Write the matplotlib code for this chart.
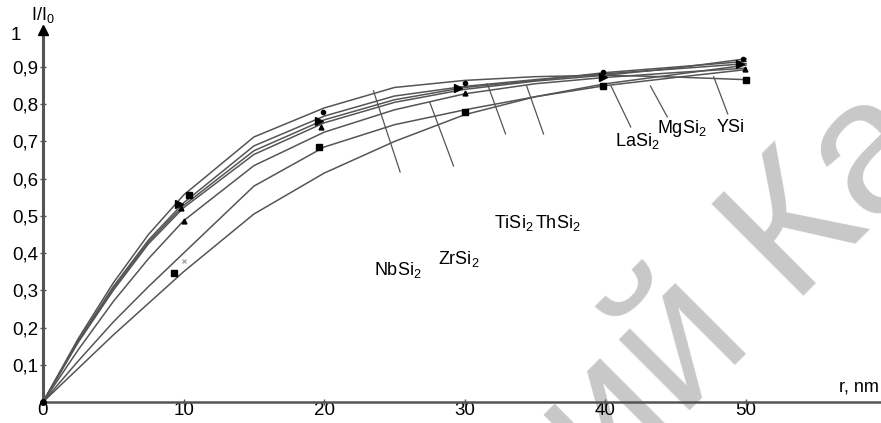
import matplotlib.pyplot as plt

plt.rcParams["font.family"] = ["Liberation Sans", "DejaVu Sans"]
plt.rcParams["mathtext.fontset"] = "custom"
plt.rcParams["mathtext.rm"] = "Liberation Sans"

# distance r, nm
r = [0, 2.5, 5, 7.5, 10, 15, 20, 25, 30, 35, 40, 45, 50]

# I/I0 curves
nbsi2 = [0, 0.17, 0.32, 0.45, 0.556, 0.712, 0.79, 0.845, 0.864, 0.874, 0.878, 0.873, 0.866]
zrsi2 = [0, 0.165, 0.31, 0.435, 0.535, 0.688, 0.768, 0.822, 0.848, 0.866, 0.882, 0.895, 0.909]
thsi2 = [0, 0.163, 0.305, 0.43, 0.528, 0.675, 0.758, 0.812, 0.845, 0.864, 0.885, 0.9, 0.915]
tisi2 = [0, 0.16, 0.30, 0.425, 0.522, 0.665, 0.75, 0.805, 0.84, 0.862, 0.878, 0.897, 0.922]
ysi = [0, 0.14, 0.27, 0.385, 0.487, 0.635, 0.725, 0.785, 0.828, 0.855, 0.872, 0.885, 0.897]
mgsi2 = [0, 0.11, 0.215, 0.31, 0.40, 0.58, 0.685, 0.745, 0.785, 0.82, 0.85, 0.872, 0.893]
lasi2 = [0, 0.09, 0.18, 0.265, 0.35, 0.505, 0.615, 0.70, 0.772, 0.82, 0.855, 0.88, 0.905]

curves = [nbsi2, zrsi2, thsi2, tisi2, ysi, mgsi2, lasi2]

# measured points (marker groups)
sq_x = [10.4, 9.3, 19.6, 30.0, 39.8, 50.0]
sq_y = [0.556, 0.347, 0.685, 0.78, 0.85, 0.866]
tri_r_x = [9.7, 19.6, 29.5, 39.8, 49.6]
tri_r_y = [0.532, 0.755, 0.844, 0.874, 0.909]
tri_x = [9.8, 10.0, 19.8, 30.0, 49.9]
tri_y = [0.52, 0.487, 0.74, 0.83, 0.895]
dot_x = [19.9, 30.0, 39.8, 49.8]
dot_y = [0.78, 0.857, 0.887, 0.922]
faint_x = [10.0]
faint_y = [0.38]

# labels: (text, label position, leader start, leader end on curve)
labels = [
    ("NbSi$_2$", (25.2, 0.355), (25.4, 0.618), (23.5, 0.836)),
    ("ZrSi$_2$", (29.6, 0.385), (29.2, 0.634), (27.5, 0.806)),
    ("TiSi$_2$", (33.5, 0.48), (32.9, 0.72), (31.6, 0.855)),
    ("ThSi$_2$", (36.6, 0.48), (35.6, 0.72), (34.4, 0.849)),
    ("LaSi$_2$", (42.3, 0.70), (41.8, 0.739), (40.4, 0.849)),
    ("MgSi$_2$", (45.4, 0.735), (44.4, 0.766), (43.2, 0.849)),
    ("YSi", (48.9, 0.738), (48.7, 0.774), (47.7, 0.874)),
]

fig = plt.figure(figsize=(8.81, 4.23), dpi=100)
ax = fig.add_axes([43 / 881, 21 / 423, 838 / 881, 402 / 423])
ax.set_xlim(0, 59.6)
ax.set_ylim(0, 1.08)

# watermark
ax.text(0.687, -0.17, "ий Ка", transform=fig.transFigure, fontsize=137,
        color="#c8c8c8", rotation=45, rotation_mode="anchor", ha="left",
        va="baseline", zorder=0.5, clip_on=False)

for ys in curves:
    ax.plot(r, ys, color="#555555", lw=1.1, zorder=3)
ax.plot(sq_x, sq_y, ls="none", marker="s", ms=4.5, color="black", zorder=4)
ax.plot(tri_r_x, tri_r_y, ls="none", marker=">", ms=6, color="black", zorder=4)
ax.plot(tri_x, tri_y, ls="none", marker="^", ms=3.5, color="black", zorder=4)
ax.plot(dot_x, dot_y, ls="none", marker="o", ms=3, color="black", zorder=4)
ax.plot(faint_x, faint_y, ls="none", marker="x", ms=3, color="#aaaaaa", zorder=4)
ax.plot(0, 0, marker="o", ms=4, color="black", zorder=4, clip_on=False)

for text, pos, p0, p1 in labels:
    ax.plot([p0[0], p1[0]], [p0[1], p1[1]], color="#555555", lw=0.9, zorder=3)
    ax.text(pos[0], pos[1], text, fontsize=13, ha="center", va="center", zorder=5)

# axes
for s in ["top", "right"]:
    ax.spines[s].set_visible(False)
ax.spines["left"].set_bounds(0, 1.0)
ax.spines["left"].set_color("#555555")
ax.spines["left"].set_linewidth(2.2)
ax.spines["bottom"].set_color("#555555")
ax.spines["bottom"].set_linewidth(1.8)
ax.plot(0, 1.0, marker="^", ms=7, color="black", clip_on=False, zorder=6)

ax.set_xticks([0, 10, 20, 30, 40, 50])
ax.set_xticklabels(["0", "10", "20", "30", "40", "50"])
yt = [0.1, 0.2, 0.3, 0.4, 0.5, 0.6, 0.7, 0.8, 0.9]
ax.set_yticks(yt)
ax.set_yticklabels([f"{v:.1f}".replace(".", ",") for v in yt])
ax.tick_params(direction="inout", length=5, width=1, color="#555555",
               labelsize=13.5)
ax.tick_params(axis="x", pad=-2.5)
ax.tick_params(axis="y", pad=1)
ax.text(-1.95, 0.985, "1", fontsize=13.5, ha="center", va="center", clip_on=False)
ax.text(0.0, 1.04, "I/I$_0$", fontsize=13, ha="center", va="center", clip_on=False)
ax.text(56.6, 0.04, "r, nm", fontsize=13, ha="left", va="center", clip_on=False)

fig.savefig("out.png", dpi=100)
